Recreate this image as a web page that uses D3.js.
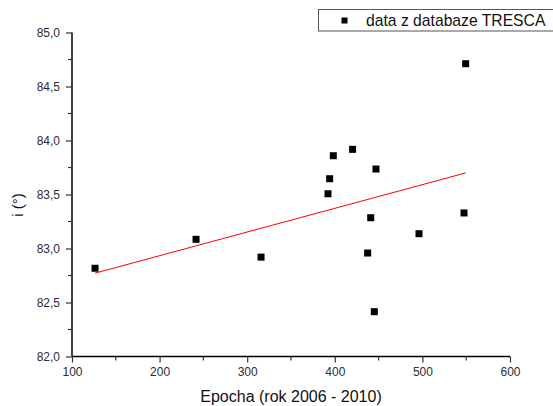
<!DOCTYPE html>
<html>
<head>
<meta charset="utf-8">
<script src="https://cdn.jsdelivr.net/npm/d3@7/dist/d3.min.js"></script>
<style>
  html, body { margin: 0; padding: 0; background: #fff; }
  svg { display: block; font-family: "Liberation Sans", Arial, sans-serif; }
</style>
</head>
<body>
<svg id="chart" width="553" height="406"></svg>
<script>
// Observations: epoch number and inclination (degrees)
const epochs = [126.3, 241.6, 315.8, 392.2, 394.1, 398.3, 420.3, 447.0, 441.0, 437.5, 445.1, 496.1, 547.5, 549.4];
const inclination = [82.817, 83.085, 82.92, 83.507, 83.646, 83.859, 83.918, 83.736, 83.285, 82.958, 82.415, 83.137, 83.329, 84.711];

const xTicks = [100, 200, 300, 400, 500, 600];
const xMinorTicks = [150, 250, 350, 450, 550];
const yTicks = [82.0, 82.5, 83.0, 83.5, 84.0, 84.5, 85.0];
const yMinorTicks = [82.25, 82.75, 83.25, 83.75, 84.25, 84.75];

const legendLabel = "data z databaze TRESCA";
const xTitle = "Epocha (rok 2006 - 2010)";
const yTitle = "i (°)";

const svg = d3.select("#chart");
const plotLeft = 72, plotRight = 510, plotTop = 32.5, plotBottom = 356.5;

const x = d3.scaleLinear().domain([100, 600]).range([plotLeft, plotRight]);
const y = d3.scaleLinear().domain([82, 85]).range([plotBottom, plotTop]);

const czech = d3.formatLocale({ decimal: ",", thousands: " ", grouping: [3], currency: ["", " Kč"] });
const fmtY = czech.format(".1f");

// Least-squares fit through the observations
const points = epochs.map((e, i) => [e, inclination[i]]);
const mx = d3.mean(epochs), my = d3.mean(inclination);
const slope = d3.sum(points, p => (p[0] - mx) * (p[1] - my)) / d3.sum(points, p => (p[0] - mx) ** 2);
const intercept = my - slope * mx;
const fitX = d3.extent(epochs);

// Axes
const xAxis = d3.axisBottom(x).tickValues(xTicks).tickSize(6).tickPadding(5).tickFormat(d3.format("d"));
const yAxis = d3.axisLeft(y).tickValues(yTicks).tickSize(6).tickPadding(6).tickFormat(fmtY);

const gx = svg.append("g").attr("transform", `translate(0,${plotBottom})`).call(xAxis);
const gy = svg.append("g").attr("transform", `translate(${plotLeft},0)`).call(yAxis);

[gx, gy].forEach(g => {
  g.select(".domain").attr("stroke", "#000").attr("stroke-width", 1.5);
  g.selectAll(".tick line").attr("stroke", "#333").attr("stroke-width", 1.2);
  g.selectAll(".tick text").attr("fill", "#2b2b3a").attr("font-size", 12)
    .attr("font-family", "'Liberation Sans', Arial, sans-serif");
});
gx.select(".domain").attr("d", `M${plotLeft},0H${plotRight}`);
gy.select(".domain").attr("d", `M0,${plotTop}V${plotBottom}`);

// Minor ticks
gx.selectAll(".minor").data(xMinorTicks).enter().append("line")
  .attr("class", "minor")
  .attr("x1", d => x(d)).attr("x2", d => x(d))
  .attr("y1", 0).attr("y2", 4)
  .attr("stroke", "#333").attr("stroke-width", 1.2);
gy.selectAll(".minor").data(yMinorTicks).enter().append("line")
  .attr("class", "minor")
  .attr("y1", d => y(d)).attr("y2", d => y(d))
  .attr("x1", 0).attr("x2", -4)
  .attr("stroke", "#333").attr("stroke-width", 1.2);

// Fit line
svg.append("line")
  .attr("x1", x(fitX[0])).attr("y1", y(intercept + slope * fitX[0]))
  .attr("x2", x(fitX[1])).attr("y2", y(intercept + slope * fitX[1]))
  .attr("stroke", "#ff0000").attr("stroke-width", 1);

// Data points
const s = 7;
svg.append("g").selectAll("rect").data(points).enter().append("rect")
  .attr("x", d => x(d[0]) - s / 2)
  .attr("y", d => y(d[1]) - s / 2)
  .attr("width", s).attr("height", s)
  .attr("fill", "#000");

// Axis titles
svg.append("text")
  .attr("x", (plotLeft + plotRight) / 2).attr("y", 402)
  .attr("text-anchor", "middle")
  .attr("font-size", 16).attr("fill", "#111")
  .text(xTitle);

svg.append("text")
  .attr("transform", `translate(23,205) rotate(-90)`)
  .attr("text-anchor", "middle")
  .attr("font-size", 15).attr("fill", "#111")
  .text(yTitle);

// Legend
const lg = svg.append("g");
lg.append("rect")
  .attr("x", 318.5).attr("y", 9.5).attr("width", 260).attr("height", 21.5)
  .attr("fill", "#fff").attr("stroke", "#555").attr("stroke-width", 1);
lg.append("rect")
  .attr("x", 341.5).attr("y", 17.5).attr("width", 6).attr("height", 6)
  .attr("fill", "#000");
lg.append("text")
  .attr("x", 366).attr("y", 26)
  .attr("font-size", 15.7).attr("fill", "#111")
  .text(legendLabel);
</script>
</body>
</html>
